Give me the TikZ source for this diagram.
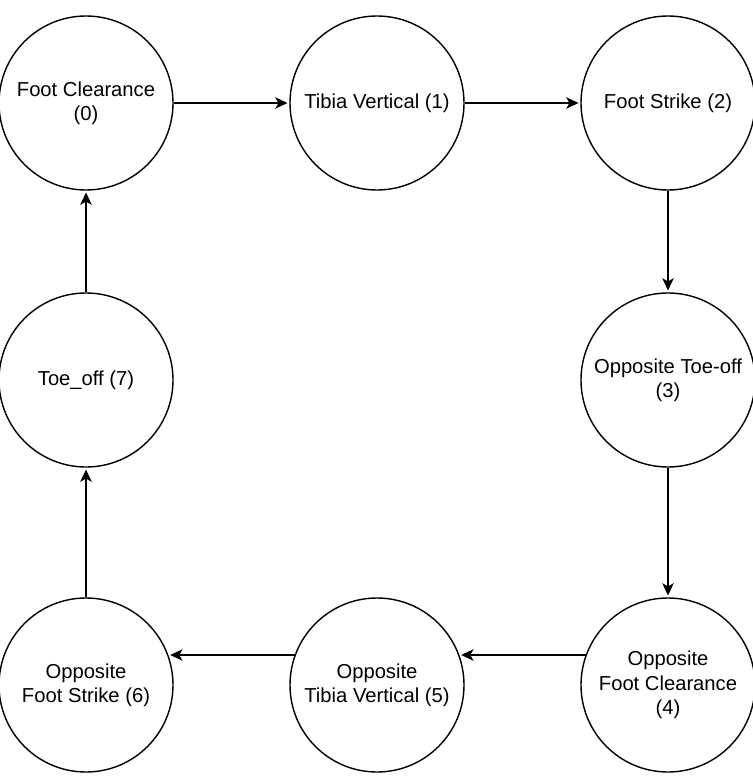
\documentclass[tikz,border=0pt]{standalone}
\usepackage{fontspec}
\setmainfont{Liberation Sans}
\usepackage{tikz}
\usetikzlibrary{arrows,arrows.meta,automata}
\usetikzlibrary{shapes}

\begin{document}
\begin{tikzpicture}[->,>={Stealth[length=7pt,width=6.5pt,inset=1.8pt]},shorten >=1pt,auto,node distance=5.82cm,
                    thick]
  \tikzstyle{every state}=[fill=white,draw=black,text=black,align=center,
                           minimum size=3.48cm,inner sep=0pt,
                           font=\fontsize{11.5}{13.8}\selectfont]

  \useasboundingbox (-1.72,2.06) rectangle (13.32,-13.5);

  \node[state]         (FC)                   {Foot Clearance\\(0)};
  \node[state]         (TV) [right of=FC]     {Tibia Vertical (1)};
  \node[state]         (FS) [right of=TV]     {Foot Strike (2)};
  \node[state]         (OTO) [below of=FS, node distance=5.54cm] {Opposite Toe-off\\(3)};
  \node[state]         (OFC) [below of=OTO, node distance=6.1cm] {Opposite\\Foot Clearance\\(4)};
  \node[state]         (OTV) [left of=OFC]    {Opposite\\Tibia Vertical (5)};
  \node[state]         (OFS) [left of=OTV]    {Opposite\\Foot Strike (6)};
  \node[state]         (TO) [below of=FC, node distance=5.54cm] {Toe\_off (7)};

  \path (FC) edge              node {} (TV)
        (TV) edge              node {} (FS)
        (FS) edge              node {} (OTO)
        (OTO) edge             node {} (OFC)
        (OFC.160) edge         node {} (OTV.20)
        (OTV.160) edge         node {} (OFS.20)
        (OFS) edge             node {} (TO)
        (TO) edge              node {} (FC);
\end{tikzpicture}
\end{document}
